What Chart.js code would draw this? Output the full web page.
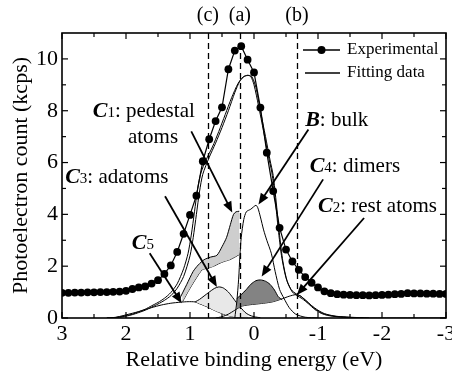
<!DOCTYPE html>
<html>
<head>
<meta charset="utf-8">
<script src="https://cdn.jsdelivr.net/npm/chart.js@4.4.1/dist/chart.umd.min.js"></script>
<style>
  html, body { margin: 0; padding: 0; background: #fff; }
  canvas { display: block; }
</style>
</head>
<body>
<canvas id="chart" width="452" height="377"></canvas>
<script>
// measured spectrum, relative binding energy (eV) vs count (kcps)
const energies = [3.0, 2.9, 2.8, 2.7, 2.6, 2.5, 2.4, 2.3, 2.2, 2.1, 2.0, 1.9, 1.8, 1.7, 1.6, 1.5, 1.4, 1.3, 1.2, 1.1,
  1.0, 0.9, 0.8, 0.7, 0.6, 0.5, 0.4, 0.3, 0.2, 0.1, 0.0, -0.1, -0.2, -0.3, -0.4, -0.5, -0.6, -0.7, -0.8, -0.9,
  -1.0, -1.1, -1.2, -1.3, -1.4, -1.5, -1.6, -1.7, -1.8, -1.9, -2.0, -2.1, -2.2, -2.3, -2.4, -2.5, -2.6, -2.7, -2.8, -2.9, -3.0];
const experimental = [0.97, 0.97, 0.98, 0.98, 0.99, 0.99, 1.00, 1.00, 1.01, 1.02, 1.05, 1.12, 1.18, 1.22, 1.33, 1.46, 1.70, 2.03, 2.55, 3.25,
  3.98, 4.72, 6.05, 6.90, 7.60, 8.13, 9.60, 10.32, 10.49, 9.97, 9.48, 8.12, 6.38, 4.90, 3.48, 2.64, 2.18, 1.86, 1.58, 1.36,
  1.18, 1.03, 0.96, 0.92, 0.90, 0.89, 0.88, 0.88, 0.87, 0.88, 0.89, 0.90, 0.92, 0.93, 0.96, 0.95, 0.95, 0.94, 0.94, 0.93, 0.93];

// fitted envelopes
const fitX = [2.3, 2.1, 2.0, 1.9, 1.8, 1.7, 1.6, 1.5, 1.4, 1.3, 1.2, 1.1, 1.0, 0.95, 0.9, 0.85, 0.8, 0.7, 0.6, 0.5, 0.4, 0.3,
  0.22, 0.15, 0.08, 0.03, -0.03, -0.1, -0.18, -0.25, -0.3, -0.35, -0.4, -0.45, -0.52, -0.6, -0.68, -0.75, -0.85, -0.95,
  -1.05, -1.15, -1.3, -1.5, -1.8, -3.0];
const fitY = [0, 0.03, 0.07, 0.13, 0.21, 0.3, 0.42, 0.54, 0.68, 0.86, 1.15, 1.6, 2.4, 3.1, 4.0, 4.9, 5.55, 6.2, 6.75, 7.35, 8.0, 8.7,
  9.15, 9.33, 9.36, 9.3, 8.9, 8.0, 7.0, 6.1, 5.5, 4.4, 3.2, 2.2, 1.4, 1.0, 0.85, 0.75, 0.55, 0.33,
  0.18, 0.1, 0.05, 0.02, 0, 0];
const fit2X = [2.3, 2.1, 2.0, 1.9, 1.8, 1.7, 1.6, 1.5, 1.4, 1.3, 1.2, 1.1, 1.03, 0.98, 0.93, 0.88, 0.83, 0.75, 0.65, 0.55, 0.45, 0.35,
  0.25, 0.17, 0.1, 0.05, 0.0, -0.07, -0.15, -0.22, -0.28, -0.33, -0.38, -0.43, -0.5, -0.58, -0.66, -0.73, -0.83, -0.93,
  -1.03, -1.13, -1.28, -1.5, -1.8];
const fit2Y = [0, 0.04, 0.09, 0.15, 0.24, 0.34, 0.47, 0.6, 0.76, 0.98, 1.32, 1.9, 2.5, 3.2, 4.1, 5.0, 5.6, 6.1, 6.6, 7.2, 7.85, 8.5,
  9.05, 9.3, 9.37, 9.32, 9.0, 8.2, 7.2, 6.3, 5.6, 4.6, 3.4, 2.4, 1.55, 1.1, 0.93, 0.84, 0.63, 0.4,
  0.23, 0.13, 0.06, 0.03, 0];

// components
const bulkX = [0.3, 0.27, 0.24, 0.22, 0.2, 0.16, 0.12, 0.05, -0.03, -0.06, -0.1, -0.15, -0.2, -0.27, -0.33, -0.4, -0.47, -0.55, -0.65, -0.8, -1.0];
const bulkY = [0, 0.6, 1.5, 2.4, 3.1, 3.8, 4.1, 4.2, 4.35, 4.25, 3.9, 3.4, 3.0, 2.5, 1.8, 1.1, 0.75, 0.4, 0.15, 0.03, 0];
const pedestalTopX = [1.17, 1.05, 0.95, 0.87, 0.78, 0.68, 0.58, 0.5, 0.43, 0.37, 0.32, 0.28, 0.23];
const pedestalTopY = [0.7, 1.3, 1.8, 2.05, 2.25, 2.35, 2.42, 2.75, 3.1, 3.6, 4.0, 4.1, 4.12];
const pedestalLowX = [1.12, 1.0, 0.9, 0.81, 0.72, 0.63, 0.55, 0.47, 0.38, 0.3, 0.23];
const pedestalLowY = [0.62, 1.15, 1.55, 1.86, 1.93, 2.0, 2.1, 2.18, 2.25, 2.35, 2.45];
const dimerX = [0.27, 0.2, 0.12, 0.05, -0.03, -0.1, -0.18, -0.25, -0.32, -0.38, -0.44];
const dimerY = [0.75, 0.9, 1.1, 1.3, 1.44, 1.47, 1.42, 1.3, 1.08, 0.82, 0.7];
const restX = [0.6, 0.5, 0.4, 0.3, 0.2, 0.1, 0.0, -0.15, -0.3, -0.45, -0.55, -0.65, -0.72, -0.8, -0.9, -1.0, -1.1, -1.25, -1.45, -1.7];
const restY = [0, 0.05, 0.15, 0.3, 0.45, 0.5, 0.53, 0.57, 0.63, 0.75, 0.84, 0.9, 0.86, 0.7, 0.48, 0.3, 0.17, 0.08, 0.03, 0];
const adatomX = [0.92, 0.85, 0.78, 0.7, 0.62, 0.55, 0.48, 0.4, 0.33, 0.26, 0.2, 0.14, 0.08, 0.0, -0.1];
const adatomY = [0.62, 0.72, 0.85, 1.0, 1.14, 1.2, 1.16, 1.0, 0.78, 0.55, 0.38, 0.22, 0.12, 0.05, 0.01];
const c5X = [2.2, 2.0, 1.8, 1.6, 1.45, 1.3, 1.15, 1.03, 0.92, 0.85, 0.75, 0.65, 0.55, 0.45, 0.35, 0.25, 0.1];
const c5Y = [0, 0.12, 0.25, 0.4, 0.5, 0.57, 0.61, 0.63, 0.62, 0.55, 0.45, 0.33, 0.22, 0.13, 0.06, 0.02, 0];

const xTicks = [3, 2, 1, 0, -1, -2, -3];
const xMinorTicks = [2.5, 1.5, 0.5, -0.5, -1.5, -2.5];
const yTicks = [0, 2, 4, 6, 8, 10];
const yMinorTicks = [1, 3, 5, 7, 9];
const markerEnergies = [0.72, 0.22, -0.67];
const markerLabels = ['(c)', '(a)', '(b)'];

const SERIF = '"Liberation Serif", "Times New Roman", serif';

// labels with arrows: text start (x, y baseline) and arrow from -> to, all in data units
const notes = [
  { parts: [['C', 'bi'], ['1', 'n'], [': pedestal', 'r']], x: 2.52, y: 7.75,
    extra: { text: 'atoms', x: 1.97, y: 6.75 }, from: [0.98, 7.2], to: [0.34, 4.07] },
  { parts: [['B', 'bi'], [': bulk', 'r']], x: -0.8, y: 7.4, from: [-0.85, 7.28], to: [-0.07, 4.38] },
  { parts: [['C', 'bi'], ['4', 'n'], [': dimers', 'r']], x: -0.87, y: 5.65, from: [-1.08, 5.35], to: [-0.12, 1.6] },
  { parts: [['C', 'bi'], ['2', 'n'], [': rest atoms', 'r']], x: -1.0, y: 4.1, from: [-1.72, 3.86], to: [-0.67, 0.89] },
  { parts: [['C', 'bi'], ['3', 'n'], [': adatoms', 'r']], x: 2.95, y: 5.2, from: [1.39, 4.7], to: [0.58, 1.2] },
  { parts: [['C', 'bi'], ['5', 'n']], x: 1.91, y: 2.68, from: [1.63, 2.5], to: [1.13, 0.57] }
];

function pts(xs, ys) {
  return xs.map((x, i) => ({ x: x, y: ys[i] }));
}

function partFont(kind) {
  if (kind === 'bi') return 'italic bold 22px ' + SERIF;
  if (kind === 'n') return '15px ' + SERIF;
  return '21px ' + SERIF;
}

function arrow(ctx, x1, y1, x2, y2) {
  const ang = Math.atan2(y2 - y1, x2 - x1);
  const len = 11, half = 4.5;
  ctx.beginPath();
  ctx.moveTo(x1, y1);
  ctx.lineTo(x2 - Math.cos(ang) * len * 0.8, y2 - Math.sin(ang) * len * 0.8);
  ctx.stroke();
  ctx.beginPath();
  ctx.moveTo(x2, y2);
  ctx.lineTo(x2 - Math.cos(ang) * len + Math.sin(ang) * half, y2 - Math.sin(ang) * len - Math.cos(ang) * half);
  ctx.lineTo(x2 - Math.cos(ang) * len - Math.sin(ang) * half, y2 - Math.sin(ang) * len + Math.cos(ang) * half);
  ctx.closePath();
  ctx.fill();
}

const decor = {
  id: 'decor',
  afterDatasetsDraw(chart) {
    const ctx = chart.ctx;
    const xs = chart.scales.x, ys = chart.scales.y;
    const { top, bottom } = chart.chartArea;
    ctx.save();
    ctx.strokeStyle = '#000';
    ctx.lineWidth = 1.3;
    ctx.setLineDash([6, 4]);
    markerEnergies.forEach(e => {
      const px = Math.round(xs.getPixelForValue(e)) + 0.5;
      ctx.beginPath();
      ctx.moveTo(px, top);
      ctx.lineTo(px, bottom);
      ctx.stroke();
    });
    ctx.setLineDash([]);
    ctx.fillStyle = '#000';
    ctx.font = '20px ' + SERIF;
    ctx.textAlign = 'center';
    ctx.textBaseline = 'middle';
    markerEnergies.forEach((e, i) => {
      ctx.fillText(markerLabels[i], xs.getPixelForValue(e), top - 17);
    });

    // annotations
    ctx.textAlign = 'left';
    ctx.textBaseline = 'alphabetic';
    ctx.lineWidth = 1.8;
    notes.forEach(n => {
      let cx = xs.getPixelForValue(n.x);
      const cy = ys.getPixelForValue(n.y);
      n.parts.forEach(p => {
        ctx.font = partFont(p[1]);
        ctx.fillText(p[0], cx, cy);
        cx += ctx.measureText(p[0]).width;
      });
      if (n.extra) {
        ctx.font = partFont('r');
        ctx.fillText(n.extra.text, xs.getPixelForValue(n.extra.x), ys.getPixelForValue(n.extra.y));
      }
      arrow(ctx, xs.getPixelForValue(n.from[0]), ys.getPixelForValue(n.from[1]),
        xs.getPixelForValue(n.to[0]), ys.getPixelForValue(n.to[1]));
    });
    ctx.restore();
  },
  afterDraw(chart) {
    const ctx = chart.ctx;
    const xs = chart.scales.x, ys = chart.scales.y;
    const { left, right, top, bottom } = chart.chartArea;
    ctx.save();
    ctx.strokeStyle = '#000';
    ctx.lineWidth = 1.2;
    const seg = (a, b, c, d) => { ctx.beginPath(); ctx.moveTo(a, b); ctx.lineTo(c, d); ctx.stroke(); };
    xTicks.forEach(v => { const p = xs.getPixelForValue(v); seg(p, bottom, p, bottom - 6); seg(p, top, p, top + 6); });
    xMinorTicks.forEach(v => { const p = xs.getPixelForValue(v); seg(p, bottom, p, bottom - 4); seg(p, top, p, top + 4); });
    yTicks.forEach(v => { const p = ys.getPixelForValue(v); seg(left, p, left + 6, p); seg(right, p, right - 6, p); });
    yMinorTicks.forEach(v => { const p = ys.getPixelForValue(v); seg(left, p, left + 4, p); seg(right, p, right - 4, p); });
    ctx.lineWidth = 1.6;
    ctx.strokeRect(left, top, right - left, bottom - top);

    // legend
    const lx = right - 143, ly1 = top + 17, ly2 = top + 40;
    ctx.lineWidth = 1.3;
    seg(lx, ly1, lx + 37, ly1);
    ctx.fillStyle = '#000';
    ctx.beginPath();
    ctx.arc(lx + 18.5, ly1, 4, 0, Math.PI * 2);
    ctx.fill();
    seg(lx + 2, ly2, lx + 37, ly2);
    ctx.font = '17px ' + SERIF;
    ctx.textBaseline = 'middle';
    ctx.fillText('Experimental', lx + 44, ly1);
    ctx.fillText('Fitting data', lx + 44, ly2);
    ctx.restore();
  }
};

const thin = { borderColor: '#000', borderWidth: 1, pointRadius: 0, tension: 0.25 };

new Chart(document.getElementById('chart'), {
  type: 'line',
  data: {
    datasets: [
      { label: 'Experimental', data: pts(energies, experimental), borderColor: '#000', borderWidth: 1.2,
        pointRadius: 3.9, pointBackgroundColor: '#000', pointBorderWidth: 0, fill: false, tension: 0 },
      Object.assign({ label: 'Fitting data', data: pts(fitX, fitY), fill: false }, thin),
      Object.assign({ label: 'Fit 2', data: pts(fit2X, fit2Y), fill: false }, thin),
      Object.assign({ label: 'B', data: pts(bulkX, bulkY), fill: false }, thin),
      Object.assign({ label: 'C1', data: pts(pedestalTopX, pedestalTopY), fill: 5, backgroundColor: '#cecece' }, thin),
      Object.assign({ label: 'C1 low', data: pts(pedestalLowX, pedestalLowY), fill: false }, thin),
      Object.assign({ label: 'C4', data: pts(dimerX, dimerY), fill: 7, backgroundColor: '#838383' }, thin),
      Object.assign({ label: 'C2', data: pts(restX, restY), fill: false }, thin),
      Object.assign({ label: 'C3', data: pts(adatomX, adatomY), fill: 9, backgroundColor: '#e8e8e8' }, thin),
      Object.assign({ label: 'C5', data: pts(c5X, c5Y), fill: false }, thin)
    ]
  },
  options: {
    responsive: false,
    animation: false,
    devicePixelRatio: 1,
    layout: { padding: { top: 33, right: 6, left: 0, bottom: 0 } },
    plugins: { legend: { display: false }, tooltip: { enabled: false } },
    scales: {
      x: {
        type: 'linear', reverse: true, min: -3, max: 3,
        grid: { display: false, drawTicks: false },
        border: { display: false },
        afterBuildTicks: s => { s.ticks = xTicks.map(v => ({ value: v })); },
        afterFit: s => { s.height = 59; s.paddingLeft = 0; s.paddingRight = 0; },
        ticks: { color: '#000', padding: 3, maxRotation: 0, autoSkip: false,
          font: { family: SERIF, size: 22 }, callback: v => String(v) },
        title: { display: true, text: 'Relative binding energy (eV)', color: '#000',
          font: { family: SERIF, size: 22 }, padding: { top: 0, bottom: 4 } }
      },
      y: {
        type: 'linear', min: 0, max: 11,
        grid: { display: false, drawTicks: false },
        border: { display: false },
        afterBuildTicks: s => { s.ticks = yTicks.map(v => ({ value: v })); },
        afterFit: s => { s.width = 62; s.paddingTop = 0; s.paddingBottom = 0; },
        ticks: { color: '#000', padding: 4, font: { family: SERIF, size: 22 }, callback: v => String(v) },
        title: { display: true, text: 'Photoelectron count (kcps)', color: '#000',
          font: { family: SERIF, size: 22 }, padding: { top: 8, bottom: 0 } }
      }
    }
  },
  plugins: [decor]
});
</script>
</body>
</html>
